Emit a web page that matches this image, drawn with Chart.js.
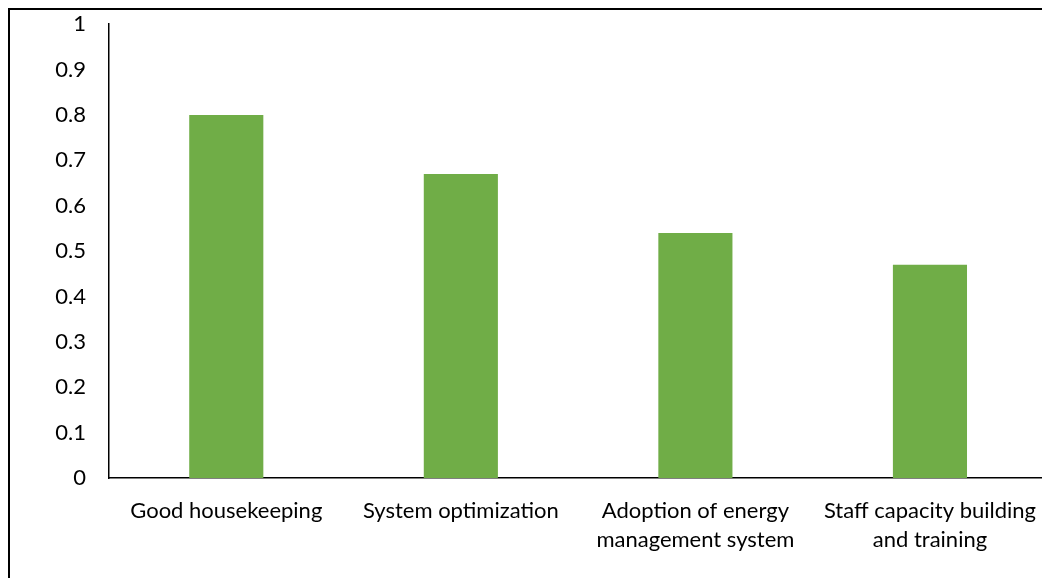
<!DOCTYPE html>
<html>
<head>
<meta charset="utf-8">
<script src="https://cdn.jsdelivr.net/npm/chart.js@4/dist/chart.umd.min.js"></script>
<style>
  html, body { margin: 0; padding: 0; background: #fff; overflow: hidden; }
  body { width: 1042px; height: 578px; position: relative; }
  #frame { position: absolute; left: 8px; top: 8px; width: 1200px; height: 800px;
           border: 2px solid #000; box-sizing: border-box; }
  #wrap { position: absolute; left: 0; top: -12px; width: 1054px; height: 590px; }
</style>
</head>
<body>
<div id="frame"></div>
<div id="wrap"><canvas id="c"></canvas></div>
<script>
// Share of facilities adopting each energy-efficiency measure
const categories = [
  'Good housekeeping',
  'System optimization',
  ['Adoption of energy', 'management system'],
  ['Staff capacity building', 'and training']
];
const values = [0.80, 0.67, 0.54, 0.47];
const yTickLabels = ['0', '0.1', '0.2', '0.3', '0.4', '0.5', '0.6', '0.7', '0.8', '0.9', '1'];

const FONT = 'Lato, "Open Sans", sans-serif';

new Chart(document.getElementById('c'), {
  type: 'bar',
  data: {
    labels: categories,
    datasets: [{
      data: values,
      backgroundColor: '#70ad47',
      borderWidth: 0,
      barPercentage: 1,
      categoryPercentage: 0.316
    }]
  },
  options: {
    responsive: true,
    maintainAspectRatio: false,
    animation: false,
    layout: { padding: { top: 0, right: 0, bottom: 0, left: 0 } },
    plugins: { legend: { display: false }, tooltip: { enabled: false } },
    scales: {
      x: {
        grid: { display: false, drawTicks: false },
        border: { display: true, color: '#000', width: 1.5 },
        ticks: {
          color: '#000',
          font: { family: FONT, size: 22, lineHeight: 1.32 },
          padding: 18,
          maxRotation: 0,
          autoSkip: false
        },
        afterFit(scale) { scale.height = 100; }
      },
      y: {
        min: 0,
        max: 1,
        grid: { display: false, drawTicks: false },
        border: { display: true, color: '#000', width: 1.5 },
        ticks: {
          stepSize: 0.1,
          color: '#000',
          padding: 23,
          font: { family: FONT, size: 22 },
          callback: (v, i) => yTickLabels[i]
        },
        afterFit(scale) { scale.width = 109; }
      }
    }
  }
});
</script>
</body>
</html>
